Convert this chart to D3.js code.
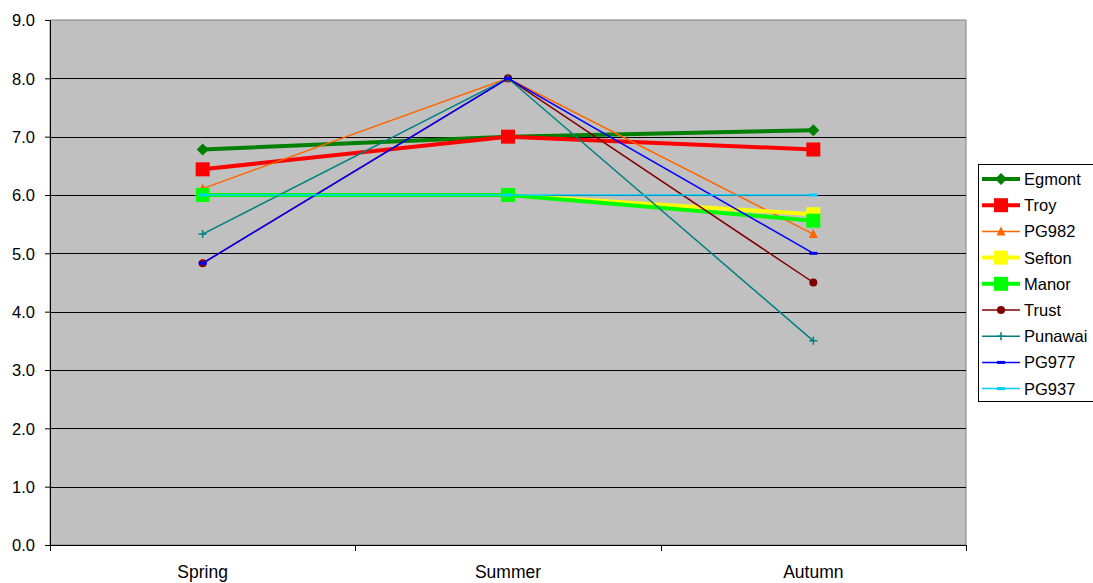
<!DOCTYPE html>
<html>
<head>
<meta charset="utf-8">
<script src="https://cdn.jsdelivr.net/npm/d3@7"></script>
<style>
  body { margin: 0; background: #fff; }
  text { font-family: "Liberation Sans", Arial, sans-serif; }
</style>
</head>
<body>
<div id="chart"></div>
<script>
// categories and series values
const seasons = ["Spring", "Summer", "Autumn"];
const yTicks = [0, 1, 2, 3, 4, 5, 6, 7, 8, 9];

const egmont  = [6.78, 7.0, 7.11];
const troy    = [6.44, 7.0, 6.78];
const pg982   = [6.11, 8.0, 5.33];
const sefton  = [6.0, 6.0, 5.67];
const manor   = [6.0, 6.0, 5.56];
const trust   = [4.83, 8.0, 4.5];
const punawai = [5.33, 8.0, 3.5];
const pg977   = [4.83, 8.0, 5.0];
const pg937   = [6.0, 6.0, 6.0];

const seriesNames = ["Egmont", "Troy", "PG982", "Sefton", "Manor", "Trust", "Punawai", "PG977", "PG937"];
const seriesValues = [egmont, troy, pg982, sefton, manor, trust, punawai, pg977, pg937];
const seriesColors = ["#008000", "#ff0000", "#ff6600", "#ffff00", "#00ff00", "#800000", "#008080", "#0000ff", "#00ccff"];
const seriesMarkers = ["diamond", "square", "triangle", "square", "square", "circle", "plus", "dash", "dash"];
const seriesWidths = [4, 4, 1.5, 4, 4, 1.5, 1.5, 1.5, 1.5];

const totalWidth = 1093, totalHeight = 583;
const margin = {top: 20, left: 50, right: 127, bottom: 38};
const width = totalWidth - margin.left - margin.right,
      height = totalHeight - margin.top - margin.bottom;

const svg = d3.select("#chart")
  .append("svg")
    .attr("width", totalWidth)
    .attr("height", totalHeight);

const g = svg.append("g")
    .attr("transform", "translate(" + margin.left + "," + margin.top + ")");

const x = d3.scaleBand()
    .domain(seasons)
    .range([0, width]);

const y = d3.scaleLinear()
    .domain([0, 9])
    .range([height, 0]);

// plot area
g.append("rect")
    .attr("width", width)
    .attr("height", height)
    .attr("fill", "#c0c0c0")
    .attr("stroke", "#808080")
    .attr("stroke-width", 1);

// gridlines
g.selectAll(".grid")
  .data(yTicks.slice(1, -1))
  .enter()
  .append("line")
    .attr("x1", 0)
    .attr("x2", width)
    .attr("y1", d => Math.round(y(d)) + 0.5)
    .attr("y2", d => Math.round(y(d)) + 0.5)
    .attr("stroke", "#000")
    .attr("stroke-width", 1);

// Y axis
const yAxis = g.append("g")
    .call(d3.axisLeft(y).tickValues(yTicks).tickFormat(d3.format(".1f")).tickSize(5).tickSizeOuter(0));
yAxis.select(".domain").attr("stroke", "#000");
yAxis.selectAll("text").attr("font-size", 16.5).attr("fill", "#000").attr("x", -15).attr("dy", "0.35em");

// X axis with ticks at category boundaries
const xAxis = g.append("g")
    .attr("transform", "translate(0," + height + ")");
xAxis.append("line")
    .attr("x1", 0).attr("x2", width)
    .attr("y1", 0.5).attr("y2", 0.5)
    .attr("stroke", "#000");
const bounds = [0].concat(seasons.map(s => x(s) + x.bandwidth()));
xAxis.selectAll(".xt")
  .data(bounds)
  .enter()
  .append("line")
    .attr("x1", d => Math.round(d) + 0.5)
    .attr("x2", d => Math.round(d) + 0.5)
    .attr("y1", 0)
    .attr("y2", 6)
    .attr("stroke", "#000");
xAxis.selectAll(".xl")
  .data(seasons)
  .enter()
  .append("text")
    .attr("x", d => x(d) + x.bandwidth() / 2)
    .attr("y", 33)
    .attr("text-anchor", "middle")
    .attr("font-size", 17.5)
    .text(d => d);

function drawMarker(sel, type, color, cx, cy) {
  if (type === "diamond") {
    sel.append("path")
      .attr("d", `M${cx},${cy - 6}L${cx + 6},${cy}L${cx},${cy + 6}L${cx - 6},${cy}Z`)
      .attr("fill", color);
  } else if (type === "square") {
    sel.append("rect")
      .attr("x", cx - 7).attr("y", cy - 7)
      .attr("width", 14).attr("height", 14)
      .attr("fill", color);
  } else if (type === "triangle") {
    sel.append("path")
      .attr("d", `M${cx},${cy - 5}L${cx + 4.5},${cy + 4}L${cx - 4.5},${cy + 4}Z`)
      .attr("fill", color);
  } else if (type === "circle") {
    sel.append("circle")
      .attr("cx", cx).attr("cy", cy).attr("r", 4)
      .attr("fill", color);
  } else if (type === "plus") {
    sel.append("path")
      .attr("d", `M${cx - 4},${cy}H${cx + 4}M${cx},${cy - 4}V${cy + 4}`)
      .attr("stroke", color).attr("stroke-width", 1.5).attr("fill", "none");
  } else if (type === "dash") {
    sel.append("rect")
      .attr("x", cx - 4).attr("y", cy - 1.5)
      .attr("width", 8).attr("height", 3)
      .attr("fill", color);
  }
}

const line = d3.line()
    .x((d, i) => x(seasons[i]) + x.bandwidth() / 2)
    .y(d => y(d));

// series
seriesValues.forEach((vals, k) => {
  const sg = g.append("g");
  sg.append("path")
    .datum(vals)
    .attr("d", line)
    .attr("fill", "none")
    .attr("stroke", seriesColors[k])
    .attr("stroke-width", seriesWidths[k]);
  vals.forEach((v, i) => {
    drawMarker(sg, seriesMarkers[k], seriesColors[k], x(seasons[i]) + x.bandwidth() / 2, y(v));
  });
});

// legend
const legend = svg.append("g")
    .attr("transform", "translate(978,164)");
legend.append("rect")
    .attr("x", 0.5).attr("y", 0.5)
    .attr("width", 130).attr("height", 237)
    .attr("fill", "#fff")
    .attr("stroke", "#000");

seriesNames.forEach((name, k) => {
  const ly = 15 + k * 26.2;
  const lg = legend.append("g");
  lg.append("line")
    .attr("x1", 4).attr("x2", 42)
    .attr("y1", ly).attr("y2", ly)
    .attr("stroke", seriesColors[k])
    .attr("stroke-width", seriesWidths[k]);
  drawMarker(lg, seriesMarkers[k], seriesColors[k], 23, ly);
  lg.append("text")
    .attr("x", 46)
    .attr("y", ly)
    .attr("dy", "0.36em")
    .attr("font-size", 16.5)
    .text(name);
});
</script>
</body>
</html>
